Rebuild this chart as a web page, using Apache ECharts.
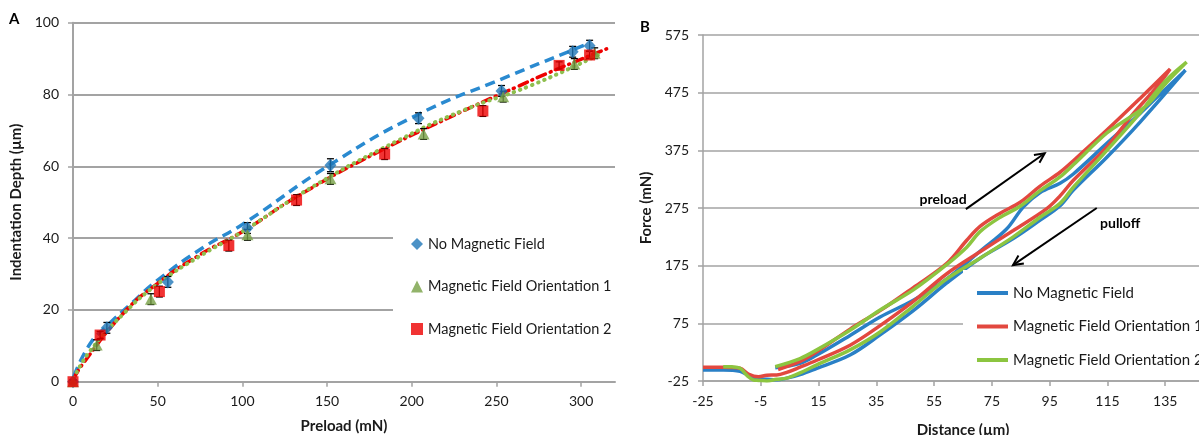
<!DOCTYPE html>
<html><head><meta charset="utf-8">
<script src="https://cdn.jsdelivr.net/npm/echarts@6/dist/echarts.min.js"></script>
<style>
html,body{margin:0;padding:0;background:#fff;width:1199px;height:435px;overflow:hidden}
#a{position:absolute;left:0;top:0;width:620px;height:435px}
#b{position:absolute;left:620px;top:0;width:579px;height:435px}
</style></head><body><div id="a"></div><div id="b"></div>
<script>
// ---------- Panel A data ----------
const aXTicks = [0, 50, 100, 150, 200, 250, 300];
const aYTicks = [0, 20, 40, 60, 80, 100];
const aLegendNames = ['No Magnetic Field', 'Magnetic Field Orientation 1', 'Magnetic Field Orientation 2'];

const noFieldX   = [0, 20, 56, 103, 152, 204, 253, 295, 305];
const noFieldY   = [0, 15.0, 27.8, 42.8, 60.3, 73.4, 81.0, 91.9, 93.6];
const noFieldErr = [0.5, 1.5, 1.5, 1.5, 1.8, 1.5, 1.5, 1.5, 1.5];

const orient1X   = [0, 14, 46, 103, 152, 207, 254, 296, 308];
const orient1Y   = [0, 10.2, 23.0, 40.9, 56.5, 69.0, 79.4, 88.5, 91.5];
const orient1Err = [0.5, 1.5, 1.5, 1.5, 1.5, 1.5, 1.5, 1.5, 1.5];

const orient2X   = [0, 16, 51, 92, 132, 184, 242, 287, 305];
const orient2Y   = [0, 13.0, 25.1, 37.9, 50.6, 63.4, 75.4, 88.1, 91.0];
const orient2Err = [0.5, 1.0, 1.5, 1.5, 1.5, 1.5, 1.5, 1.0, 1.0];

// trend lines
const trendNoFieldX = [0.5, 10, 20, 35, 50, 77.6, 100, 152, 204, 254, 296, 305];
const trendNoFieldY = [1.5, 10.5, 15.5, 22, 28.3, 37.6, 43.8, 60.5, 74.5, 84.5, 92.6, 94.3];
const trendOrient1X = [0.5, 10, 30, 50, 75, 100, 141.4, 192.4, 230, 270.8, 310];
const trendOrient1Y = [1, 8.5, 19, 27.2, 35, 41.8, 54.3, 67.3, 75.5, 82.6, 91];
const trendOrient2X = [0.5, 6, 29.6, 50, 74.7, 100, 132, 175.7, 227.6, 262.4, 280, 316];
const trendOrient2Y = [1, 5.1, 19, 27.4, 35.3, 41.8, 51.5, 62.9, 74.8, 82.2, 85.9, 92.9];

// ---------- Panel B data ----------
const bXTicks = [-25, -5, 15, 35, 55, 75, 95, 115, 135];
const bYTicks = [-25, 75, 175, 275, 375, 475, 575];
const bLegendNames = ['No Magnetic Field', 'Magnetic Field Orientation 1', 'Magnetic Field Orientation 2'];

const bNoFieldX = [0, 8.6, 14.4, 25.9, 36.3, 47.8, 59.4, 70.9, 80, 85.9, 91.7, 98.6, 103.2, 114.8, 126.3, 132.1, 142,
  126.3, 114.8, 103.2, 98.6, 91.7, 82.4, 70.9, 59.4, 47.8, 36.3, 25.9, 14.4, 8.6, 4, 0.5, -2.9, -5.8, -9.3, -12.2, -18, -25];
const bNoFieldY = [-2, 5.5, 20, 54, 86, 115, 152, 200, 238, 277, 302, 318, 334, 387, 439, 467, 514,
  424, 363, 306, 279, 254, 222, 188, 145, 97, 55, 20, -3, -14, -20, -23, -22, -21, -15, -8, -6, -6];

const bOrient1X = [1, 8.6, 14.4, 25.9, 36.3, 47.8, 59.4, 66.3, 70.9, 77.9, 84.8, 91.7, 98.6, 103.2, 114.8, 126.3, 136.7,
  132.1, 124, 114.8, 103.2, 98.6, 94, 82.4, 70.9, 59.4, 47.8, 36.3, 25.9, 14.4, 8.6, 4, 0.5, -2.9, -5.8, -9.3, -12.2, -18, -25];
const bOrient1Y = [-5, 9, 25.7, 65, 97, 137, 179, 219, 243, 266, 285, 313, 337, 357, 410, 465, 516,
  485, 439, 381, 323, 296, 274, 236, 199, 161, 113, 71, 37, 11, -1, -10, -14.6, -15, -17.6, -12.9, -3, -1.3, -1.3];

const bOrient2X = [0, 8.6, 14.4, 25.9, 36.3, 47.8, 59.4, 66.3, 70.9, 77.9, 84.8, 91.7, 98.6, 103.2, 114.8, 122.9, 129, 135, 142.4,
  136, 132.1, 126.3, 114.8, 103.2, 98.6, 91.7, 82.4, 70.9, 59.4, 47.8, 36.3, 25.9, 14.4, 8.6, 4, 0.5, -2.9, -5.8, -7.6, -9.3, -12.2, -15, -18];
const bOrient2Y = [0, 14, 29, 63, 98, 133, 177, 207, 234, 259, 278, 305, 329, 350, 405, 433, 455, 490, 528,
  500, 478, 440, 375, 311, 283, 259, 225, 188, 152, 105, 60, 29, 3, -11, -20, -22, -25, -24, -23, -17.6, -3, -0.5, -0.2];

// annotation arrows [x1, y1, x2, y2] and labels [x, y, text]
const bArrows = [[66, 273, 93.3, 370], [111.3, 275, 82.3, 176]];
const bLabels = [[58.1, 290, 'preload'], [119.4, 248.6, 'pulloff']];

// ---------- helpers ----------
const FONT = 'Lato, "Open Sans", sans-serif';
const zip = (xs, ys) => xs.map((x, i) => [x, ys[i]]);
const errData = (xs, ys, es) => xs.map((x, i) => [x, ys[i] - es[i], ys[i] + es[i]]);
const GRID = '#a3a3a3';
const TXT = '#1a1a1a';

function errRender(params, api) {
  const x = api.value(0);
  const p1 = api.coord([x, api.value(2)]);
  const p2 = api.coord([x, api.value(1)]);
  const w = 3.5;
  const st = { stroke: '#000', lineWidth: 1.3 };
  return { type: 'group', children: [
    { type: 'line', shape: { x1: p1[0], y1: p1[1], x2: p2[0], y2: p2[1] }, style: st },
    { type: 'line', shape: { x1: p1[0] - w, y1: p1[1], x2: p1[0] + w, y2: p1[1] }, style: st },
    { type: 'line', shape: { x1: p2[0] - w, y1: p2[1], x2: p2[0] + w, y2: p2[1] }, style: st }
  ]};
}

// ---------- Chart A ----------
const cA = echarts.init(document.getElementById('a'), null, { renderer: 'canvas' });
const BLUE_A = '#1f77b8', GREEN_A = '#77a045', RED_A = '#ee0000';
cA.setOption({
  animation: false,
  textStyle: { fontFamily: FONT },
  graphic: [{ type: 'text', left: 9, top: 12, style: { text: 'A', font: 'bold 15px ' + FONT, fill: '#000' } }],
  grid: { left: 73, top: 22.7, width: 542, height: 359, outerBoundsMode: 'none', containLabel: false },
  xAxis: {
    type: 'value', min: 0, max: 320, interval: 50,
    name: 'Preload (mN)', nameLocation: 'middle', nameGap: 37,
    nameTextStyle: { fontWeight: 'bold', fontSize: 15, color: TXT, fontFamily: FONT },
    axisLine: { onZero: false, lineStyle: { color: GRID, width: 2 } },
    axisTick: { show: true, length: 5, lineStyle: { color: GRID, width: 1.5 }, customValues: aXTicks },
    axisLabel: { color: TXT, fontSize: 14, margin: 13, customValues: aXTicks, fontFamily: FONT },
    splitLine: { show: false }
  },
  yAxis: {
    type: 'value', min: 0, max: 100, interval: 20,
    name: 'Indentation Depth (µm)', nameLocation: 'middle', nameGap: 39,
    nameTextStyle: { fontWeight: 'bold', fontSize: 15, color: TXT, fontFamily: FONT },
    axisLine: { show: true, onZero: false, lineStyle: { color: GRID, width: 2 } },
    axisTick: { show: true, length: 5, lineStyle: { color: GRID, width: 1.5 } },
    axisLabel: { color: TXT, fontSize: 14, margin: 14, fontFamily: FONT },
    splitLine: { lineStyle: { color: GRID, width: 2 } }
  },
  legend: {
    orient: 'vertical', left: 393, top: 220,
    padding: [16, 12, 20, 18], backgroundColor: '#fff',
    itemWidth: 12, itemHeight: 12, itemGap: 26.5,
    textStyle: { fontSize: 14.5, lineHeight: 16, color: TXT, fontFamily: FONT },
    data: [
      { name: aLegendNames[0], icon: 'diamond' },
      { name: aLegendNames[1], icon: 'triangle' },
      { name: aLegendNames[2], icon: 'rect' }
    ]
  },
  series: [
    { name: 'trend0', type: 'line', data: zip(trendNoFieldX, trendNoFieldY), smooth: true, showSymbol: false, z: 2,
      lineStyle: { color: '#2a8ad0', width: 3.5, type: [10, 6] } },
    { name: 'trend2', type: 'line', data: zip(trendOrient2X, trendOrient2Y), smooth: true, showSymbol: false, z: 2,
      lineStyle: { color: RED_A, width: 3.5, type: [9, 5, 1, 5], cap: 'round' } },
    { name: 'trend1', type: 'line', data: zip(trendOrient1X, trendOrient1Y), smooth: true, showSymbol: false, z: 2,
      lineStyle: { color: '#8fbf4f', width: 4, type: [0.5, 6], cap: 'round' } },
    { name: 'err0', type: 'custom', renderItem: errRender, data: errData(noFieldX, noFieldY, noFieldErr), encode: { x: 0, y: [1, 2] }, z: 3 },
    { name: 'err1', type: 'custom', renderItem: errRender, data: errData(orient1X, orient1Y, orient1Err), encode: { x: 0, y: [1, 2] }, z: 3 },
    { name: 'err2', type: 'custom', renderItem: errRender, data: errData(orient2X, orient2Y, orient2Err), encode: { x: 0, y: [1, 2] }, z: 3 },
    { name: aLegendNames[0], type: 'scatter', data: zip(noFieldX, noFieldY), symbol: 'diamond', symbolSize: [12, 13],
      itemStyle: { color: BLUE_A }, z: 4 },
    { name: aLegendNames[1], type: 'scatter', data: zip(orient1X, orient1Y), symbol: 'triangle', symbolSize: [12, 11],
      itemStyle: { color: GREEN_A }, z: 4 },
    { name: aLegendNames[2], type: 'scatter', data: zip(orient2X, orient2Y), symbol: 'rect', symbolSize: 11,
      itemStyle: { color: RED_A }, z: 4 }
  ]
});

// ---------- Chart B ----------
const cB = echarts.init(document.getElementById('b'), null, { renderer: 'canvas' });
const BLUE_B = '#2a80c6', RED_B = '#e2483f', GREEN_B = '#8cc540';
function arrowRender(params, api) {
  const a = api.coord([api.value(0), api.value(1)]);
  const b = api.coord([api.value(2), api.value(3)]);
  const ang = Math.atan2(b[1] - a[1], b[0] - a[0]);
  const L = 11, s = 0.45;
  const h1 = [b[0] - L * Math.cos(ang - s), b[1] - L * Math.sin(ang - s)];
  const h2 = [b[0] - L * Math.cos(ang + s), b[1] - L * Math.sin(ang + s)];
  const st = { stroke: '#000', lineWidth: 2, fill: null };
  return { type: 'group', children: [
    { type: 'line', shape: { x1: a[0], y1: a[1], x2: b[0], y2: b[1] }, style: st },
    { type: 'polyline', shape: { points: [h1, b, h2] }, style: st }
  ]};
}
function labelRender(params, api) {
  const p = api.coord([api.value(0), api.value(1)]);
  return { type: 'text', x: p[0], y: p[1],
    style: { text: bLabels[params.dataIndex][2], fill: '#000', font: 'bold 14px ' + FONT, align: 'center', verticalAlign: 'middle' } };
}
cB.setOption({
  animation: false,
  textStyle: { fontFamily: FONT },
  graphic: [{ type: 'text', left: 20, top: 20, style: { text: 'B', font: 'bold 15px ' + FONT, fill: '#000' } }],
  grid: { left: 83, top: 35, width: 520, height: 346, outerBoundsMode: 'none', containLabel: false },
  xAxis: {
    type: 'value', min: -25, max: 155, interval: 20,
    name: 'Distance (µm)', nameLocation: 'middle', nameGap: 42,
    nameTextStyle: { fontWeight: 'bold', fontSize: 15, color: TXT, fontFamily: FONT },
    axisLine: { onZero: false, lineStyle: { color: GRID, width: 1.5 } },
    axisTick: { show: true, length: 5, lineStyle: { color: GRID, width: 1.5 }, customValues: bXTicks },
    axisLabel: { color: TXT, fontSize: 14, margin: 13, customValues: bXTicks, fontFamily: FONT },
    splitLine: { show: false }
  },
  yAxis: {
    type: 'value', min: -25, max: 575, interval: 100,
    name: 'Force (mN)', nameLocation: 'middle', nameGap: 43,
    nameTextStyle: { fontWeight: 'bold', fontSize: 15, color: TXT, fontFamily: FONT },
    axisLine: { show: true, onZero: false, lineStyle: { color: GRID, width: 1.5 } },
    axisTick: { show: true, length: 5, lineStyle: { color: GRID, width: 1.5 } },
    axisLabel: { color: TXT, fontSize: 14, margin: 14, fontFamily: FONT },
    splitLine: { lineStyle: { color: GRID, width: 1.5 } }
  },
  legend: {
    orient: 'vertical', left: 343, top: 270,
    padding: [15, 10, 8, 14], backgroundColor: '#fff',
    itemWidth: 31, itemHeight: 4, itemGap: 17.5,
    textStyle: { fontSize: 15, lineHeight: 16, color: TXT, fontFamily: FONT, overflow: 'none' },
    data: bLegendNames.map(n => ({ name: n, icon: 'rect' }))
  },
  series: [
    { name: bLegendNames[0], type: 'line', color: BLUE_B, data: zip(bNoFieldX, bNoFieldY), smooth: 0.35, showSymbol: false,
      lineStyle: { width: 3.5, color: BLUE_B }, z: 2 },
    { name: bLegendNames[1], type: 'line', color: RED_B, data: zip(bOrient1X, bOrient1Y), smooth: 0.35, showSymbol: false,
      lineStyle: { width: 3.5, color: RED_B }, z: 2 },
    { name: bLegendNames[2], type: 'line', color: GREEN_B, data: zip(bOrient2X, bOrient2Y), smooth: 0.35, showSymbol: false,
      lineStyle: { width: 3.5, color: GREEN_B }, z: 2 },
    { name: 'arrows', type: 'custom', renderItem: arrowRender, data: bArrows, encode: { x: [0, 2], y: [1, 3] }, z: 5 },
    { name: 'labels', type: 'custom', renderItem: labelRender, data: bLabels.map(l => [l[0], l[1]]), encode: { x: 0, y: 1 }, z: 5 }
  ]
});
</script></body></html>
